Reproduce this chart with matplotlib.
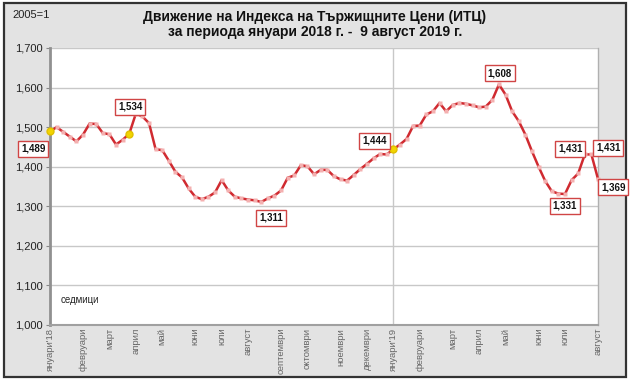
import matplotlib.pyplot as plt
from matplotlib.patches import Rectangle
import numpy as np

plt.rcParams['font.family'] = ['Liberation Sans', 'DejaVu Sans']

# weekly index values, first week of Jan 2018 .. 9 Aug 2019
itc = [1489, 1500, 1488, 1476, 1464, 1481, 1509, 1508, 1485, 1482,
       1456, 1468, 1483, 1534, 1527, 1510, 1444, 1442, 1415, 1387,
       1373, 1345, 1324, 1318, 1324, 1335, 1366, 1340, 1324, 1320,
       1317, 1315, 1311, 1320, 1327, 1340, 1372, 1378, 1404, 1401,
       1381, 1392, 1392, 1376, 1368, 1365, 1379, 1394, 1407, 1421,
       1432, 1431, 1444, 1456, 1470, 1503, 1504, 1532, 1540, 1561,
       1540, 1556, 1561, 1559, 1555, 1550, 1552, 1569, 1608, 1582,
       1540, 1515, 1481, 1439, 1400, 1364, 1338, 1332, 1331, 1366,
       1383, 1431, 1431, 1369]

month_pos = [0, 5, 9, 13, 17, 22, 26, 30, 35, 39, 44, 48, 52, 56, 61, 65, 69, 74, 78, 83]
month_names = ["януари'18", "февруари", "март", "април", "май", "юни", "юли",
               "август", "септември", "октомври", "ноември", "декември",
               "януари'19", "февруари", "март", "април", "май", "юни", "юли", "август"]

yellow_idx = [0, 12, 52]
label_idx = [0, 13, 32, 52, 68, 81, 78, 82, 83]
# offsets of the value boxes, in points
label_off = [(-12, -12.5), (-4, 5), (7, -11.5), (-13.5, 6), (0.5, 8),
             (-10.5, 4), (0, -8.6), (12, 4.7), (11, -6)]

x = np.arange(len(itc))

fig = plt.figure(figsize=(6.3, 3.81), dpi=100, facecolor='white')
bg = Rectangle((4/630, 1-377/381), 622/630, 374/381, transform=fig.transFigure,
               facecolor='#e3e3e3', edgecolor='#333333', lw=1.6, zorder=-10)
fig.patches.append(bg)

ax = fig.add_axes([50/630, 1-325/381, 548/630, 277/381])
ax.set_facecolor('white')

ax.set_ylim(1000, 1700)
ax.set_xlim(0, len(itc)-1)
ax.set_yticks(np.arange(1000, 1701, 100))
ax.set_yticklabels([f"{v:,}" for v in range(1000, 1701, 100)], fontsize=8, color='#222222')
ax.yaxis.grid(True, color='#c8c8c8', lw=1)
ax.set_axisbelow(True)
ax.axvline(52, color='#c8c8c8', lw=1, zorder=0)

ax.set_xticks(month_pos)
ax.set_xticklabels(month_names, rotation=90, fontsize=6.8, color='#666666', va='top')
ax.tick_params(axis='x', length=0, pad=2)
ax.tick_params(axis='y', length=3, color='#888888', pad=2)

ax.spines['top'].set_visible(False)
ax.spines['left'].set_color('#909090')
ax.spines['left'].set_lw(2)
ax.spines['bottom'].set_color('#a0a0a0')
ax.spines['bottom'].set_lw(1.5)
ax.spines['right'].set_color('#b0b0b0')
ax.spines['right'].set_lw(1)

ax.plot(x, itc, color='#d02a30', lw=1.8, marker='s', ms=2.2,
        mfc='#f4b0b0', mec='none', clip_on=False, zorder=3)
ax.plot(x[yellow_idx], np.array(itc)[yellow_idx], 'o', color='#f2d400',
        ms=5, mec='#e0c000', clip_on=False, zorder=4)

for i, off in zip(label_idx, label_off):
    ax.annotate(f"{itc[i]:,}", xy=(i, itc[i]), xytext=off, textcoords='offset points',
                ha='center', va='center', fontsize=7, fontweight='bold', color='#111111',
                bbox=dict(boxstyle='square,pad=0.3', fc='white', ec='#d04545', lw=1),
                annotation_clip=False, zorder=5)

ax.text(0.02, 0.09, 'седмици', transform=ax.transAxes, fontsize=7, color='#222222',
        va='center')

fig.text(315/630, 1-17/381, 'Движение на Индекса на Тържищните Цени (ИТЦ)',
         ha='center', va='center', fontsize=10, fontweight='bold', color='#111111')
fig.text(315/630, 1-32/381, 'за периода януари 2018 г. -  9 август 2019 г.',
         ha='center', va='center', fontsize=10, fontweight='bold', color='#111111')
fig.text(12/630, 1-15/381, '2005=1', ha='left', va='center', fontsize=8, color='#222222')

fig.savefig('out.png', dpi=100)
